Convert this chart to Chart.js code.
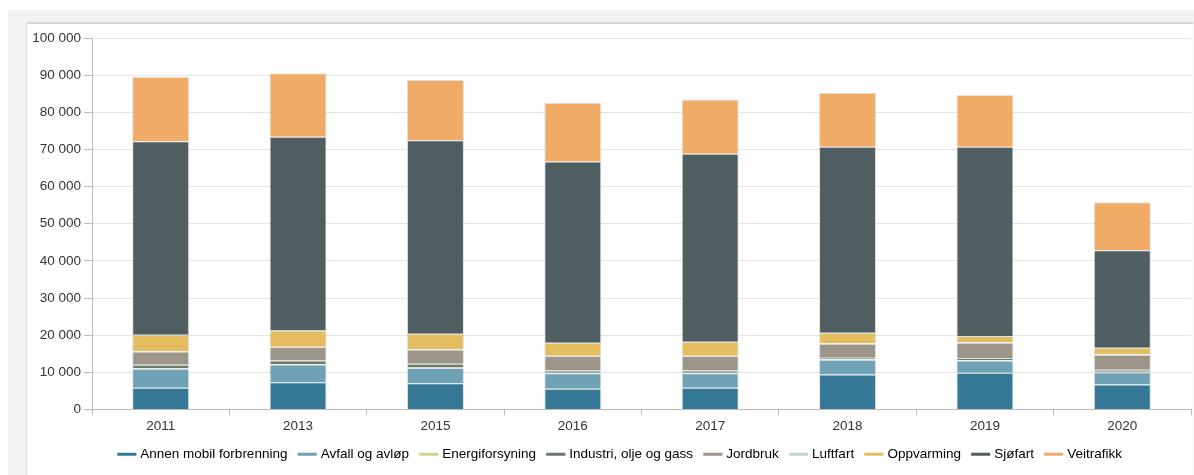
<!DOCTYPE html>
<html>
<head>
<meta charset="utf-8">
<script src="https://cdn.jsdelivr.net/npm/chart.js@4"></script>
<style>
  html, body { margin: 0; padding: 0; background: #fff; }
  body { width: 1194px; height: 475px; overflow: hidden; position: relative; }
  .frame { position: absolute; left: 8px; top: 10px; right: 0; bottom: 0; background: #f2f2f2; }
  .panel { position: absolute; left: 26px; top: 22px; width: 1166px; height: 453px;
           background: #fff; border-top: 2px solid #d6d6d6; border-left: 1px solid #dcdcdc; }
  #chart { position: absolute; left: 27px; top: 24px; }
</style>
</head>
<body>
<div class="frame"></div>
<div class="panel"></div>
<canvas id="chart" width="1167" height="451"></canvas>
<script>
// Utslipp per kilde (tonn CO2-ekv.), lest av figuren
const years = ['2011', '2013', '2015', '2016', '2017', '2018', '2019', '2020'];

const annenMobil      = [5850, 7360, 7090, 5570, 5850, 9430, 9890, 6740];
const avfall          = [5120, 4770, 4050, 4220, 3940, 3960, 3320, 3310];
const energiforsyning = [150, 150, 150, 120, 120, 120, 120, 120];
const industri        = [930, 930, 1020, 600, 600, 420, 500, 530];
const jordbruk        = [3580, 3590, 3860, 3860, 3860, 3770, 4140, 4040];
const luftfart        = [100, 100, 100, 100, 100, 100, 100, 100];
const oppvarming      = [4400, 4390, 4130, 3500, 3780, 2870, 1690, 1790];
const sjofart         = [52110, 52110, 52100, 48790, 50570, 50030, 50940, 26230];
const veitrafikk      = [17330, 17080, 16180, 15800, 14650, 14560, 13940, 12940];

const yTicks = [0, 10000, 20000, 30000, 40000, 50000, 60000, 70000, 80000, 90000, 100000];

function fmt(v) {
  return String(v).replace(/\B(?=(\d{3})+(?!\d))/g, ' ');
}

const series = [
  { label: 'Annen mobil forbrenning', data: annenMobil, color: '#347895' },
  { label: 'Avfall og avløp', data: avfall, color: '#6fa2b4' },
  { label: 'Energiforsyning', data: energiforsyning, color: '#d3d48c' },
  { label: 'Industri, olje og gass', data: industri, color: '#687b6b' },
  { label: 'Jordbruk', data: jordbruk, color: '#9c958a' },
  { label: 'Luftfart', data: luftfart, color: '#bcd6d6' },
  { label: 'Oppvarming', data: oppvarming, color: '#e3bd5f' },
  { label: 'Sjøfart', data: sjofart, color: '#505e62' },
  { label: 'Veitrafikk', data: veitrafikk, color: '#f0ab67' }
];

// the original legend sits a bit right of the canvas centre
const legendShift = {
  id: 'legendShift',
  afterLayout(chart) {
    if (chart.legend) chart.legend.left += 24;
  }
};

Chart.defaults.font.family = '"Liberation Sans", Arial, sans-serif';
Chart.defaults.font.size = 13.5;
Chart.defaults.color = '#333';

new Chart(document.getElementById('chart'), {
  type: 'bar',
  data: {
    labels: years,
    datasets: series.map(s => ({
      label: s.label,
      data: s.data,
      backgroundColor: s.color,
      borderColor: 'rgba(0,0,0,0.12)',
      borderWidth: 1,
      categoryPercentage: 1,
      barPercentage: 0.415
    }))
  },
  plugins: [legendShift],
  options: {
    responsive: false,
    maintainAspectRatio: false,
    animation: false,
    devicePixelRatio: 1,
    layout: { padding: { top: 14, right: 3, left: 0, bottom: 4 } },
    scales: {
      x: {
        stacked: true,
        grid: { display: true, drawOnChartArea: false, tickLength: 6, color: '#bbb', offset: true },
        border: { color: '#bbb' },
        ticks: { padding: 3, color: '#333' },
        afterFit: scale => { scale.height = 25; }
      },
      y: {
        stacked: true,
        min: 0,
        max: 100000,
        afterBuildTicks: scale => { scale.ticks = yTicks.map(v => ({ value: v })); },
        grid: { color: '#e6e6e6', tickLength: 8, tickColor: '#bbb' },
        border: { color: '#bbb' },
        ticks: { padding: 3, color: '#333', callback: v => fmt(v) },
        afterFit: scale => { scale.width = 65; }
      }
    },
    plugins: {
      legend: {
        position: 'bottom',
        labels: {
          usePointStyle: true,
          pointStyle: 'line',
          boxWidth: 16,
          padding: 13,
          color: '#333',
          generateLabels: chart => chart.data.datasets.map((d, i) => ({
            text: d.label,
            fillStyle: d.backgroundColor,
            strokeStyle: d.backgroundColor,
            lineWidth: 3,
            pointStyle: 'line',
            hidden: !chart.isDatasetVisible(i),
            datasetIndex: i
          }))
        }
      },
      tooltip: { enabled: false }
    }
  }
});
</script>
</body>
</html>
